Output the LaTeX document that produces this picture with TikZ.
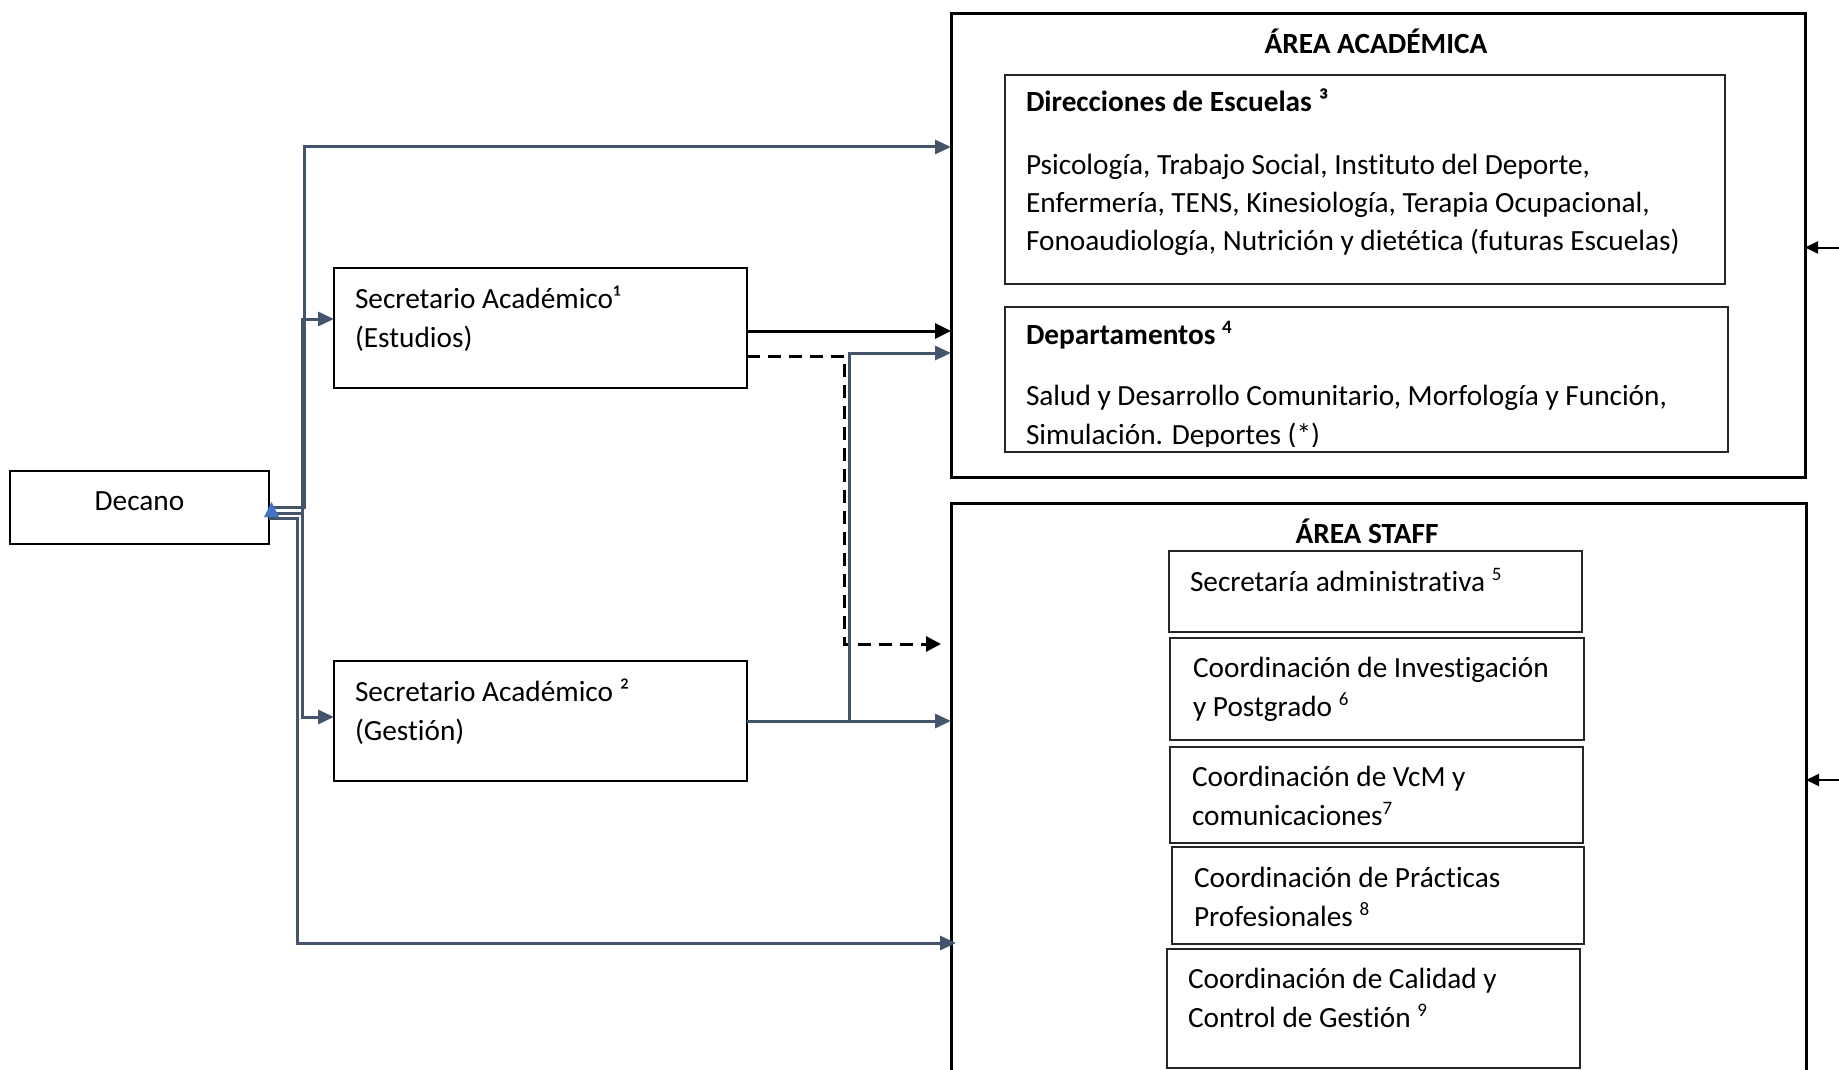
\documentclass[tikz,border=0pt]{standalone}
\usepackage{fontspec}
\setmainfont{Carlito}[Ligatures={NoCommon,NoContextual}]
\usetikzlibrary{arrows.meta}
\definecolor{slate}{HTML}{44546A}
\definecolor{tipblue}{HTML}{4472C4}
\newcommand\sups[1]{\raisebox{0.36em}{\fontsize{19}{19}\selectfont #1}}
\begin{document}
\begin{tikzpicture}[x=1pt,y=-1pt,
  every node/.style={inner sep=0pt, outer sep=0pt, font=\fontsize{29.3}{38.5}\selectfont},
  secbox/.style={draw=black, line width=2pt, rectangle},
  outerbox/.style={draw=black, line width=3pt, rectangle},
  innerbox/.style={draw=black!85, line width=1.8pt, rectangle},
  lbl/.style={anchor=base west},
  slateline/.style={draw=slate, line width=3pt, -{Triangle[length=16pt,width=14pt]}},
  blackarrow/.style={draw=black, line width=3pt, -{Triangle[length=16pt,width=15pt]}},
  dasharrow/.style={draw=black, line width=3pt, dash pattern=on 13pt off 8pt, -{Triangle[length=15pt,width=15pt]}},
  thinarrow/.style={draw=black, line width=2pt, -{Triangle[length=13pt,width=12pt]}}
]
\useasboundingbox (0,0) rectangle (1839,1070);
\clip (0,0) rectangle (1839,1070);

% boxes
\node[secbox, minimum width=259pt, minimum height=73pt] (dec) at (139.5,507.5) {};
\node[secbox, minimum width=413pt, minimum height=120pt] (sa1) at (540.5,328) {};
\node[secbox, minimum width=413pt, minimum height=120pt] (sa2) at (540.5,721) {};
\node[outerbox, minimum width=854pt, minimum height=463pt] (acad) at (1378,245.5) {};
\node[innerbox, minimum width=720pt, minimum height=209pt] (dir) at (1365,179.5) {};
\node[innerbox, minimum width=723pt, minimum height=145pt] (dep) at (1366.5,379.5) {};
\node[outerbox, minimum width=855pt, minimum height=597pt] (staff) at (1378.5,801.5) {};
\node[innerbox, minimum width=413pt, minimum height=81pt] (s1) at (1375.5,591.5) {};
\node[innerbox, minimum width=414pt, minimum height=102pt] (s2) at (1377,689) {};
\node[innerbox, minimum width=413pt, minimum height=96pt] (s3) at (1376.5,795) {};
\node[innerbox, minimum width=412pt, minimum height=97pt] (s4) at (1378,895.5) {};
\node[innerbox, minimum width=413pt, minimum height=119pt] (s5) at (1373.5,1008.5) {};

% texts
\node[anchor=base] (tdec) at (139.5,510) {Decano};
\node[lbl] (tsa1a) at (355,308) {Secretario Académico¹};
\node[lbl] (tsa1b) at (355,347) {(Estudios)};
\node[lbl] (tsa2a) at (355,701) {Secretario Académico ²};
\node[lbl] (tsa2b) at (355,740) {(Gestión)};

\node[anchor=base] (tacad) at (1376,54) {\bfseries ÁREA ACADÉMICA};
\node[lbl] (tdir0) at (1026,112) {\bfseries Direcciones de Escuelas ³};
\node[lbl] (tdir1) at (1026,174) {Psicología, Trabajo Social, Instituto del Deporte,};
\node[lbl] (tdir2) at (1026,212) {Enfermería, TENS, Kinesiología, Terapia Ocupacional,};
\node[lbl] (tdir3) at (1026,250) {Fonoaudiología, Nutrición y dietética (futuras Escuelas)};
\node[lbl] (tdep0) at (1026,344) {\bfseries Departamentos \sups{4}};
\node[lbl] (tdep1) at (1026,405) {Salud y Desarrollo Comunitario, Morfología y Función,};
\begin{scope}
  \clip (1005,307) rectangle (1728,446.5);
  \node[lbl] (tdep2) at (1026,444) {Simulación. Deportes (*)};
\end{scope}

\node[anchor=base] (tstaff) at (1367,543) {\bfseries ÁREA STAFF};
\node[lbl] (ts1) at (1190,591) {Secretaría administrativa \sups{5}};
\node[lbl] (ts2a) at (1193,677) {Coordinación de Investigación};
\node[lbl] (ts2b) at (1193,716) {y Postgrado \sups{6}};
\node[lbl] (ts3a) at (1192,786) {Coordinación de VcM y};
\node[lbl] (ts3b) at (1192,825) {comunicaciones\sups{7}};
\node[lbl] (ts4a) at (1194,887) {Coordinación de Prácticas};
\node[lbl] (ts4b) at (1194,926) {Profesionales \sups{8}};
\node[lbl] (ts5a) at (1188,988) {Coordinación de Calidad y};
\node[lbl] (ts5b) at (1188,1027) {Control de Gestión \sups{9}};

% connectors from Decano
\draw[slateline] (dec.east) -| (304,147) -- (acad.west |- 0,147);
\draw[slateline] ([yshift=-5.5pt]dec.east) -| (302,319) -- (sa1.west |- 0,319);
\draw[slateline] ([yshift=-5.5pt]dec.east) -| (302,717) -- (sa2.west |- 0,717);
\draw[slateline] ([yshift=-10.5pt]dec.east) -| (297,943) -- ([xshift=5pt]staff.west |- 0,943);
\fill[tipblue] (264,517) -- (279,517) -- (271.5,502) -- cycle;

% connectors from secretaries
\draw[blackarrow] ([yshift=-3pt]sa1.east) -- (acad.west |- 0,331);
\coordinate (dashend) at (941,644);
\draw[dasharrow] ([yshift=-28pt]sa1.east) -| (844,644) -- (dashend);
\draw[slateline] (sa2.east) -| (849,353) -- (acad.west |- 0,353);
\draw[slateline] (sa2.east) -- (staff.west |- sa2.east);

% incoming arrows from the right
\coordinate (rin1) at (1839,247.5);
\coordinate (rin2) at (1839,780);
\draw[thinarrow] (rin1) -- (acad.east |- rin1);
\draw[thinarrow] (rin2) -- (staff.east |- rin2);
\end{tikzpicture}
\end{document}
